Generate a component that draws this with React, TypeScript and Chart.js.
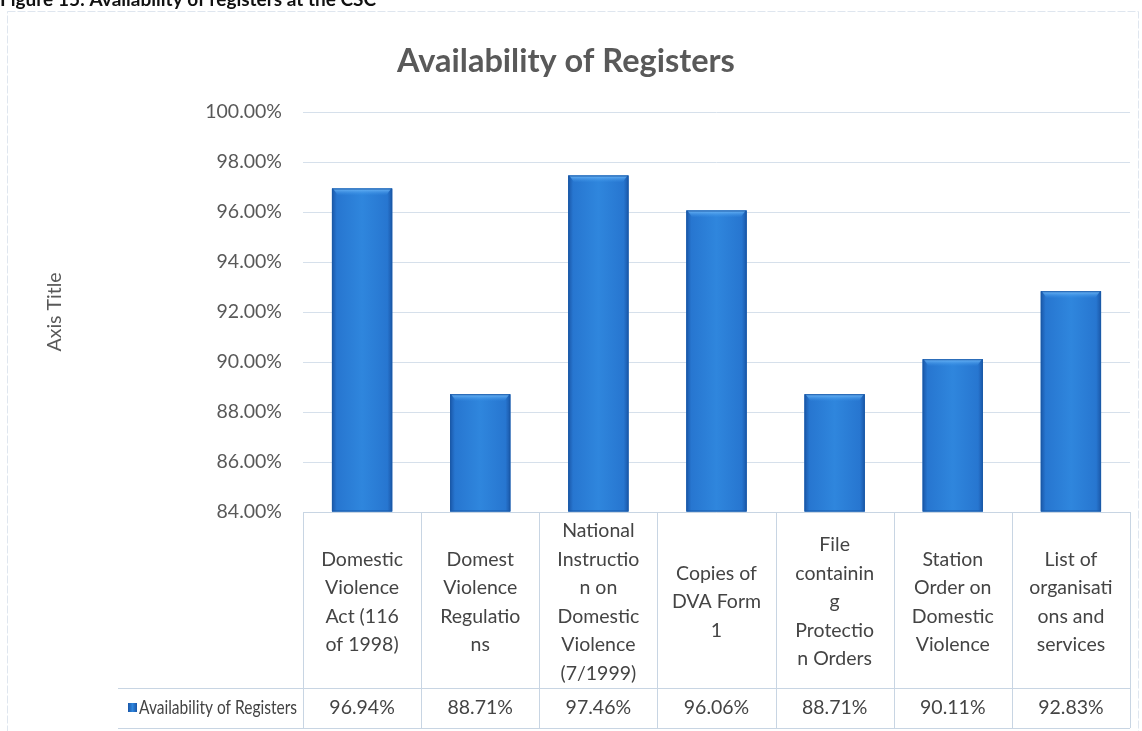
import React, { useEffect, useRef } from "react";
import { Chart, registerables } from "chart.js";

Chart.register(...registerables);

const captionText = "Figure 15: Availability of registers at the CSC";
const chartTitle = "Availability of Registers";
const axisTitle = "Axis Title";
const seriesName = "Availability of Registers";

const categoryLines: string[][] = [
  ["Domestic", "Violence", "Act (116", "of 1998)"],
  ["Domest", "Violence", "Regulatio", "ns"],
  ["National", "Instructio", "n on", "Domestic", "Violence", "(7/1999)"],
  ["Copies of", "DVA Form", "1"],
  ["File", "containin", "g", "Protectio", "n Orders"],
  ["Station", "Order on", "Domestic", "Violence"],
  ["List of", "organisati", "ons and", "services"],
];

const values: number[] = [96.94, 88.71, 97.46, 96.06, 88.71, 90.11, 92.83];

const yMin = 84;
const yMax = 100;
const yStep = 2;

const FONT = "Lato, 'Open Sans', sans-serif";
const TEXT = "#444444";
const LINE = "#c8d5e3";

const decorPlugin = {
  id: "decor",
  afterDatasetsDraw(chart: any) {
    const ctx: CanvasRenderingContext2D = chart.ctx;
    const area = chart.chartArea;
    const meta = chart.getDatasetMeta(0);
    ctx.save();
    ctx.beginPath();
    ctx.rect(area.left, area.top, area.right - area.left, area.bottom - area.top);
    ctx.clip();
    meta.data.forEach((bar: any) => {
      const { x, y, base, width } = bar.getProps(["x", "y", "base", "width"], true);
      const l = x - width / 2;
      const r = x + width / 2;
      const g = ctx.createLinearGradient(l, 0, r, 0);
      g.addColorStop(0, "#1a57a8");
      g.addColorStop(0.08, "#2776d0");
      g.addColorStop(0.5, "#2f86dd");
      g.addColorStop(0.92, "#2776d0");
      g.addColorStop(1, "#1a57a8");
      ctx.fillStyle = g;
      ctx.fillRect(l, y, width, base - y);
      const tg = ctx.createLinearGradient(0, y, 0, y + 7);
      tg.addColorStop(0, "rgba(120,190,250,0.95)");
      tg.addColorStop(1, "rgba(60,150,235,0)");
      ctx.fillStyle = tg;
      ctx.beginPath();
      ctx.moveTo(l + 1, y);
      ctx.lineTo(r - 1, y);
      ctx.lineTo(r - 6, y + 7);
      ctx.lineTo(l + 6, y + 7);
      ctx.closePath();
      ctx.fill();
      ctx.strokeStyle = "#1b5aa8";
      ctx.lineWidth = 1;
      ctx.strokeRect(l + 0.5, y + 0.5, width - 1, base - y - 1);
    });
    ctx.restore();
  },
  afterDraw(chart: any) {
    const ctx: CanvasRenderingContext2D = chart.ctx;
    const area = chart.chartArea;
    const xs = chart.scales.x;
    const n = values.length;
    const colW = (area.right - area.left) / n;
    ctx.save();

    // outer frame
    ctx.strokeStyle = "#dfe6ef";
    ctx.lineWidth = 1;
    ctx.setLineDash([8, 2]);
    ctx.strokeRect(7.5, 11.5, 1131, 740);
    ctx.setLineDash([]);

    // caption (cut at top)
    ctx.fillStyle = "#111";
    ctx.font = `bold 19px ${FONT}`;
    ctx.textAlign = "left";
    ctx.textBaseline = "alphabetic";
    ctx.fillText(captionText, 0, 6);

    // chart title
    ctx.fillStyle = "#595959";
    ctx.font = `bold 32.5px ${FONT}`;
    ctx.textAlign = "center";
    ctx.textBaseline = "middle";
    ctx.fillText(chartTitle, 566, 62);

    // axis title
    ctx.save();
    ctx.translate(55, (area.top + area.bottom) / 2);
    ctx.rotate(-Math.PI / 2);
    ctx.font = `19.5px ${FONT}`;
    ctx.fillStyle = "#595959";
    ctx.textAlign = "center";
    ctx.textBaseline = "middle";
    ctx.fillText(axisTitle, 0, 0);
    ctx.restore();

    // data table
    const top = area.bottom;
    const rowSep = 688;
    const bottom = 728;
    const legendLeft = 118;
    ctx.strokeStyle = LINE;
    ctx.lineWidth = 1;
    ctx.beginPath();
    ctx.moveTo(area.left, top + 0.5);
    ctx.lineTo(area.right, top + 0.5);
    ctx.moveTo(legendLeft, rowSep + 0.5);
    ctx.lineTo(area.right, rowSep + 0.5);
    ctx.moveTo(legendLeft, bottom + 0.5);
    ctx.lineTo(area.right, bottom + 0.5);
    for (let i = 0; i <= n; i++) {
      const bx = Math.round(area.left + i * colW) + 0.5;
      ctx.moveTo(bx, top);
      ctx.lineTo(bx, bottom);
    }
    ctx.stroke();

    ctx.fillStyle = TEXT;
    ctx.font = `19.5px ${FONT}`;
    ctx.textAlign = "center";
    ctx.textBaseline = "middle";
    const lh = 28.5;
    const midY = 602;
    for (let i = 0; i < n; i++) {
      const cx = xs.getPixelForValue(i);
      const lines = categoryLines[i];
      const start = midY - ((lines.length - 1) * lh) / 2;
      lines.forEach((t, k) => ctx.fillText(t, cx, start + k * lh));
      ctx.fillText(values[i].toFixed(2) + "%", cx, 708);
    }

    // legend key + series name (condensed to fit the cell like the original)
    const kg = ctx.createLinearGradient(128, 0, 137, 0);
    kg.addColorStop(0, "#1a57a8");
    kg.addColorStop(0.5, "#2f86dd");
    kg.addColorStop(1, "#1a57a8");
    ctx.fillStyle = kg;
    ctx.fillRect(128, 703, 9, 9);
    ctx.fillStyle = TEXT;
    ctx.textAlign = "left";
    ctx.font = `19px ${FONT}`;
    const w = ctx.measureText(seriesName).width;
    const target = 158;
    ctx.save();
    ctx.translate(139, 708);
    ctx.scale(Math.min(1, target / w), 1);
    ctx.fillText(seriesName, 0, 0);
    ctx.restore();

    ctx.restore();
  },
};

export default function App() {
  const ref = useRef<HTMLCanvasElement>(null);
  useEffect(() => {
    if (!ref.current) return;
    const chart = new Chart(ref.current, {
      type: "bar",
      data: {
        labels: categoryLines.map((l) => l.join(" ")),
        datasets: [
          {
            label: seriesName,
            data: values,
            base: yMin,
            backgroundColor: "#2c80d8",
            borderWidth: 0,
            barPercentage: 0.51,
            categoryPercentage: 1,
          } as any,
        ],
      },
      options: {
        responsive: false,
        animation: false,
        layout: { padding: { left: 0, right: 12, top: 112, bottom: 219 } },
        plugins: {
          legend: { display: false },
          tooltip: { enabled: false },
          title: { display: false },
        },
        scales: {
          x: { display: false },
          y: {
            min: yMin,
            max: yMax,
            ticks: {
              stepSize: yStep,
              padding: 21,
              color: "#595959",
              font: { family: FONT, size: 19.5 },
              callback: (v: any) => Number(v).toFixed(2) + "%",
            },
            grid: { color: "#d6e0eb", drawTicks: false },
            border: { display: false },
            afterFit: (s: any) => {
              s.width = 303;
            },
          },
        },
      },
      plugins: [decorPlugin],
    });
    return () => chart.destroy();
  }, []);
  return (
    <div style={{ position: "fixed", left: 0, top: 0, width: 1142, height: 731, background: "#fff" }}>
      <canvas ref={ref} width={1142} height={731} style={{ width: 1142, height: 731, display: "block" }} />
    </div>
  );
}
